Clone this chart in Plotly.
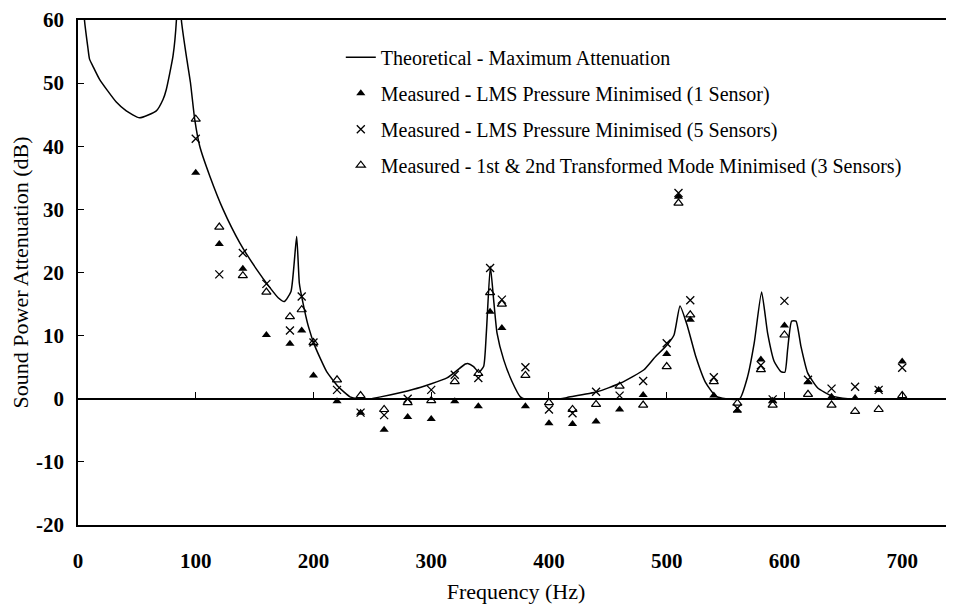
import plotly.graph_objects as go

# Measured frequencies (Hz)
freq = [100, 120, 140, 160, 180, 190, 200, 220, 240, 260, 280, 300, 320, 340, 350,
        360, 380, 400, 420, 440, 460, 480, 500, 510, 520, 540, 560, 580, 590, 600,
        620, 640, 660, 680, 700]

# Measured - LMS Pressure Minimised (1 Sensor)
lms_1 = [35.8, 24.5, 20.6, 10.1, 8.7, 10.8, 3.7, -0.4, -2.2, -4.9, -2.9, -3.2, -0.4, -1.2, 13.8,
         11.2, -1.2, -3.9, -4.0, -3.6, -1.7, 0.6, 7.1, 32.0, 12.5, 0.5, -1.9, 6.2, -0.3, 11.6,
         2.6, 0.3, 0.1, 1.4, 5.9]

# Measured - LMS Pressure Minimised (5 Sensors)
lms_5 = [41.2, 19.7, 23.1, 18.2, 10.8, 16.2, 8.9, 1.4, -2.2, -2.6, 0.0, 1.4, 3.8, 3.3, 20.7,
         15.7, 5.0, -1.7, -2.3, 1.1, 0.5, 2.8, 8.8, 32.6, 15.6, 3.4, -1.5, 5.3, -0.1, 15.5,
         3.0, 1.6, 1.9, 1.4, 4.9]

# Measured - 1st & 2nd Transformed Mode Minimised (3 Sensors)
mode_3 = [44.3, 27.2, 19.5, 16.9, 13.0, 14.1, 8.9, 3.0, 0.5, -1.7, -0.6, -0.3, 2.7, 4.0, 16.8,
          15.0, 3.7, -0.6, -1.7, -0.9, 2.0, -1.0, 5.1, 31.0, 13.3, 2.7, -0.7, 4.6, -1.0, 10.1,
          0.7, -1.0, -2.0, -1.7, 0.5]

# Theoretical - Maximum Attenuation
theo_f = [4.5, 5.5, 8.4, 9.8, 12.6, 18.3, 32.5, 41, 52.3, 66.5, 72.2, 75, 80.7, 83.6, 85.7,
          87.8, 92, 95.5, 99.1,
          103.4, 111.9, 123.2, 137.4, 151.7, 163, 170, 175.2, 180.9, 185.7, 188, 190.5,
          195.6, 201.3, 211.2, 221.1, 231, 238, 248, 257, 285, 313.4, 328.9, 331, 336,
          340.3, 344.5, 346.8, 350.2, 353, 355.9, 361.5, 368.7, 375.7, 378.6, 410, 415.5,
          441, 460.9, 480.7, 489.2, 500.6, 506.2, 511.3, 517.6, 524.7, 533.2, 541.7, 550.2,
          562, 568.7, 574.3, 580.6, 585.7, 591.3, 597, 600.4, 602.7, 606.1, 609.8, 614,
          619.7, 628.3, 639.6, 653.8, 700]
theo_db = [66, 60, 55.6, 53.8, 52.7, 50.6, 47.0, 45.6, 44.5, 45.6, 47.4, 49.0, 54.3, 60, 75,
           60, 54.3, 50.1, 44.3,
           40.0, 35.3, 30.0, 24.7, 20.5, 17.6, 16.0, 15.4, 17.0, 25.7, 18.3, 15.7,
           11.5, 8.3, 4.3, 1.9, 0.3, 0.0, 0.0, 0.3, 1.5, 3.3, 5.5, 5.6, 5.1,
           4.2, 5.1, 10.4, 21.0, 15.7, 10.4, 6.2, 2.7, 0.3, 0.0, 0.0, 0.2,
           1.1, 2.5, 4.6, 6.4, 8.6, 10.1, 14.7, 11.5, 6.7, 2.5, 0.4, 0.0,
           0.0, 3.5, 8.8, 16.9, 10.4, 5.9, 4.3, 4.2, 7.8, 12.3, 12.3, 8.3,
           4.1, 1.7, 0.5, 0.0, 0.0]

x_ticks = [0, 100, 200, 300, 400, 500, 600, 700]
x_tick_labels = ["0", "100", "200", "300", "400", "500", "600", "700"]
y_ticks = [-20, -10, 0, 10, 20, 30, 40, 50, 60]
y_tick_labels = ["-20", "-10", "0", "10", "20", "30", "40", "50", "60"]
x_range = [0, 744]
y_range = [-20, 60]

FONT = "Liberation Serif, Times New Roman, serif"

fig = go.Figure()
fig.add_trace(go.Scatter(
    x=theo_f, y=theo_db, mode="lines", xaxis="x2",
    line=dict(color="black", width=1.5, shape="spline", smoothing=0.5),
    name="Theoretical - Maximum Attenuation", legendgroup="g1"))
fig.add_trace(go.Scatter(
    x=freq, y=lms_1, mode="markers",
    marker=dict(symbol="triangle-up", size=8, color="black"),
    name="Measured - LMS Pressure Minimised (1 Sensor)", legendgroup="g2"))
fig.add_trace(go.Scatter(
    x=freq, y=lms_5, mode="markers",
    marker=dict(symbol="x-thin-open", size=8, color="black",
                line=dict(color="black", width=1.3)),
    name="Measured - LMS Pressure Minimised (5 Sensors)", legendgroup="g3"))
fig.add_trace(go.Scatter(
    x=freq, y=mode_3, mode="markers",
    marker=dict(symbol="triangle-up-open", size=8, color="black",
                line=dict(color="black", width=1.2)),
    name="Measured - 1st & 2nd Transformed Mode Minimised (3 Sensors)", legendgroup="g4"))

fig.update_layout(
    width=946, height=596,
    margin=dict(l=70, r=0, t=12, b=79),
    paper_bgcolor="white", plot_bgcolor="white",
    font=dict(family=FONT, color="black", size=20),
    xaxis=dict(
        range=x_range, tickvals=x_ticks, ticktext=x_tick_labels,
        showgrid=False, zeroline=False,
        showline=True, linecolor="black", linewidth=1.5, mirror=True,
        ticks="", tickfont=dict(family=FONT, size=21, weight="bold"),
        ticklabelstandoff=16,
        title=dict(text="Frequency (Hz)", font=dict(family=FONT, size=22), standoff=12),
    ),
    xaxis2=dict(
        range=x_range, tickvals=x_ticks, overlaying="x", anchor="free", position=0.25,
        showgrid=False, zeroline=False, showline=True, linecolor="black", linewidth=1.5,
        ticks="inside", ticklen=6, tickwidth=1.2, tickcolor="black", showticklabels=False,
    ),
    yaxis=dict(
        range=y_range, tickvals=y_ticks, ticktext=y_tick_labels,
        showgrid=False, zeroline=False,
        showline=True, linecolor="black", linewidth=1.5,
        ticks="inside", ticklen=6, tickwidth=1.2, tickcolor="black",
        tickfont=dict(family=FONT, size=21, weight="bold"),
        ticklabelstandoff=8,
        title=dict(text="Sound Power Attenuation (dB)", font=dict(family=FONT, size=22), standoff=14),
    ),
    legend=dict(
        x=0.30, y=0.965, xanchor="left", yanchor="top",
        bgcolor="rgba(0,0,0,0)", font=dict(family=FONT, size=20),
        traceorder="grouped", tracegroupgap=7, itemwidth=30,
    ),
    showlegend=True,
)

fig.write_html("out.html")
